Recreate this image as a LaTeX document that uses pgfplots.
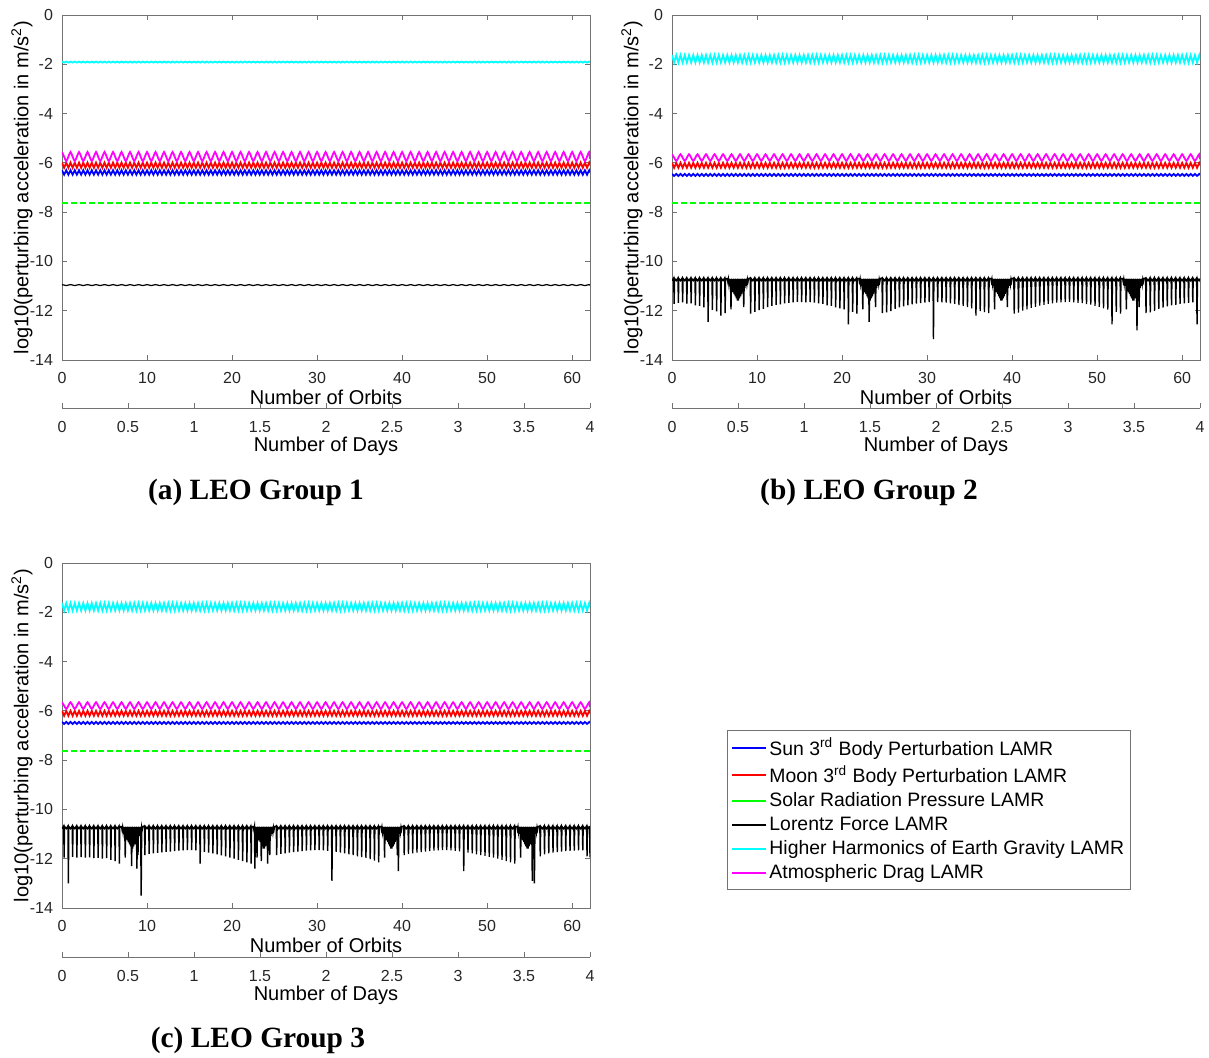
\documentclass[border=0pt]{standalone}
\usepackage{pgfplots}
\pgfplotsset{compat=1.18}
\usepackage{pgfplotstable}
\usepackage{fontspec}
\setmainfont{Liberation Sans}
\newfontfamily\capfont{Liberation Serif}
\definecolor{axgray}{gray}{0.45}
\definecolor{mblue}{rgb}{0,0,1}
\definecolor{mred}{rgb}{1,0,0}
\definecolor{mgreen}{rgb}{0,1,0}
\definecolor{mcyan}{rgb}{0,1,1}
\definecolor{mmag}{rgb}{1,0,1}
\definecolor{mblack}{rgb}{0,0,0}

% bands: panel a (ab ar am ac ak), panels b and c (bb br bm bc)
\pgfplotstableread{
x ab ar am ac ak bb br bm bc
0 -6.3 -5.99 -5.56 -1.89 -10.94 -6.45 -6 -5.65 -1.63
0.25 -6.48 -6.2 -5.75 -1.93 -10.96 -6.53 -6.2 -5.79 -1.93
0.5 -6.3 -5.99 -5.93 -1.89 -10.98 -6.45 -6 -5.92 -1.63
0.75 -6.48 -6.2 -5.75 -1.93 -10.96 -6.53 -6.2 -5.79 -1.93
1 -6.3 -5.99 -5.56 -1.89 -10.94 -6.45 -6 -5.65 -1.63
1.25 -6.48 -6.2 -5.75 -1.93 -10.96 -6.53 -6.2 -5.79 -1.93
1.5 -6.3 -5.99 -5.93 -1.89 -10.98 -6.45 -6 -5.92 -1.63
1.75 -6.48 -6.2 -5.75 -1.93 -10.96 -6.53 -6.2 -5.79 -1.93
2 -6.3 -5.99 -5.56 -1.89 -10.94 -6.45 -6 -5.65 -1.63
2.25 -6.48 -6.2 -5.75 -1.93 -10.96 -6.53 -6.2 -5.79 -1.93
2.5 -6.3 -5.99 -5.93 -1.89 -10.98 -6.45 -6 -5.92 -1.63
2.75 -6.48 -6.2 -5.75 -1.93 -10.96 -6.53 -6.2 -5.79 -1.93
3 -6.3 -5.99 -5.56 -1.89 -10.94 -6.45 -6 -5.65 -1.63
3.25 -6.48 -6.2 -5.75 -1.93 -10.96 -6.53 -6.2 -5.79 -1.93
3.5 -6.3 -5.99 -5.93 -1.89 -10.98 -6.45 -6 -5.92 -1.63
3.75 -6.48 -6.2 -5.75 -1.93 -10.96 -6.53 -6.2 -5.79 -1.93
4 -6.3 -5.99 -5.56 -1.89 -10.94 -6.45 -6 -5.65 -1.63
4.25 -6.48 -6.2 -5.75 -1.93 -10.96 -6.53 -6.2 -5.79 -1.93
4.5 -6.3 -5.99 -5.93 -1.89 -10.98 -6.45 -6 -5.92 -1.63
4.75 -6.48 -6.2 -5.75 -1.93 -10.96 -6.53 -6.2 -5.79 -1.93
5 -6.3 -5.99 -5.56 -1.89 -10.94 -6.45 -6 -5.65 -1.63
5.25 -6.48 -6.2 -5.75 -1.93 -10.96 -6.53 -6.2 -5.79 -1.93
5.5 -6.3 -5.99 -5.93 -1.89 -10.98 -6.45 -6 -5.92 -1.63
5.75 -6.48 -6.2 -5.75 -1.93 -10.96 -6.53 -6.2 -5.79 -1.93
6 -6.3 -5.99 -5.56 -1.89 -10.94 -6.45 -6 -5.65 -1.63
6.25 -6.48 -6.2 -5.75 -1.93 -10.96 -6.53 -6.2 -5.79 -1.93
6.5 -6.3 -5.99 -5.93 -1.89 -10.98 -6.45 -6 -5.92 -1.63
6.75 -6.48 -6.2 -5.75 -1.93 -10.96 -6.53 -6.2 -5.79 -1.93
7 -6.3 -5.99 -5.56 -1.89 -10.94 -6.45 -6 -5.65 -1.63
7.25 -6.48 -6.2 -5.75 -1.93 -10.96 -6.53 -6.2 -5.79 -1.93
7.5 -6.3 -5.99 -5.93 -1.89 -10.98 -6.45 -6 -5.92 -1.63
7.75 -6.48 -6.2 -5.75 -1.93 -10.96 -6.53 -6.2 -5.79 -1.93
8 -6.3 -5.99 -5.56 -1.89 -10.94 -6.45 -6 -5.65 -1.63
8.25 -6.48 -6.2 -5.75 -1.93 -10.96 -6.53 -6.2 -5.79 -1.93
8.5 -6.3 -5.99 -5.93 -1.89 -10.98 -6.45 -6 -5.92 -1.63
8.75 -6.48 -6.2 -5.75 -1.93 -10.96 -6.53 -6.2 -5.79 -1.93
9 -6.3 -5.99 -5.56 -1.89 -10.94 -6.45 -6 -5.65 -1.63
9.25 -6.48 -6.2 -5.75 -1.93 -10.96 -6.53 -6.2 -5.79 -1.93
9.5 -6.3 -5.99 -5.93 -1.89 -10.98 -6.45 -6 -5.92 -1.63
9.75 -6.48 -6.2 -5.75 -1.93 -10.96 -6.53 -6.2 -5.79 -1.93
10 -6.3 -5.99 -5.56 -1.89 -10.94 -6.45 -6 -5.65 -1.63
10.25 -6.48 -6.2 -5.75 -1.93 -10.96 -6.53 -6.2 -5.79 -1.93
10.5 -6.3 -5.99 -5.93 -1.89 -10.98 -6.45 -6 -5.92 -1.63
10.75 -6.48 -6.2 -5.75 -1.93 -10.96 -6.53 -6.2 -5.79 -1.93
11 -6.3 -5.99 -5.56 -1.89 -10.94 -6.45 -6 -5.65 -1.63
11.25 -6.48 -6.2 -5.75 -1.93 -10.96 -6.53 -6.2 -5.79 -1.93
11.5 -6.3 -5.99 -5.93 -1.89 -10.98 -6.45 -6 -5.92 -1.63
11.75 -6.48 -6.2 -5.75 -1.93 -10.96 -6.53 -6.2 -5.79 -1.93
12 -6.3 -5.99 -5.56 -1.89 -10.94 -6.45 -6 -5.65 -1.63
12.25 -6.48 -6.2 -5.75 -1.93 -10.96 -6.53 -6.2 -5.79 -1.93
12.5 -6.3 -5.99 -5.93 -1.89 -10.98 -6.45 -6 -5.92 -1.63
12.75 -6.48 -6.2 -5.75 -1.93 -10.96 -6.53 -6.2 -5.79 -1.93
13 -6.3 -5.99 -5.56 -1.89 -10.94 -6.45 -6 -5.65 -1.63
13.25 -6.48 -6.2 -5.75 -1.93 -10.96 -6.53 -6.2 -5.79 -1.93
13.5 -6.3 -5.99 -5.93 -1.89 -10.98 -6.45 -6 -5.92 -1.63
13.75 -6.48 -6.2 -5.75 -1.93 -10.96 -6.53 -6.2 -5.79 -1.93
14 -6.3 -5.99 -5.56 -1.89 -10.94 -6.45 -6 -5.65 -1.63
14.25 -6.48 -6.2 -5.75 -1.93 -10.96 -6.53 -6.2 -5.79 -1.93
14.5 -6.3 -5.99 -5.93 -1.89 -10.98 -6.45 -6 -5.92 -1.63
14.75 -6.48 -6.2 -5.75 -1.93 -10.96 -6.53 -6.2 -5.79 -1.93
15 -6.3 -5.99 -5.56 -1.89 -10.94 -6.45 -6 -5.65 -1.63
15.25 -6.48 -6.2 -5.75 -1.93 -10.96 -6.53 -6.2 -5.79 -1.93
15.5 -6.3 -5.99 -5.93 -1.89 -10.98 -6.45 -6 -5.92 -1.63
15.75 -6.48 -6.2 -5.75 -1.93 -10.96 -6.53 -6.2 -5.79 -1.93
16 -6.3 -5.99 -5.56 -1.89 -10.94 -6.45 -6 -5.65 -1.63
16.25 -6.48 -6.2 -5.75 -1.93 -10.96 -6.53 -6.2 -5.79 -1.93
16.5 -6.3 -5.99 -5.93 -1.89 -10.98 -6.45 -6 -5.92 -1.63
16.75 -6.48 -6.2 -5.75 -1.93 -10.96 -6.53 -6.2 -5.79 -1.93
17 -6.3 -5.99 -5.56 -1.89 -10.94 -6.45 -6 -5.65 -1.63
17.25 -6.48 -6.2 -5.75 -1.93 -10.96 -6.53 -6.2 -5.79 -1.93
17.5 -6.3 -5.99 -5.93 -1.89 -10.98 -6.45 -6 -5.92 -1.63
17.75 -6.48 -6.2 -5.75 -1.93 -10.96 -6.53 -6.2 -5.79 -1.93
18 -6.3 -5.99 -5.56 -1.89 -10.94 -6.45 -6 -5.65 -1.63
18.25 -6.48 -6.2 -5.75 -1.93 -10.96 -6.53 -6.2 -5.79 -1.93
18.5 -6.3 -5.99 -5.93 -1.89 -10.98 -6.45 -6 -5.92 -1.63
18.75 -6.48 -6.2 -5.75 -1.93 -10.96 -6.53 -6.2 -5.79 -1.93
19 -6.3 -5.99 -5.56 -1.89 -10.94 -6.45 -6 -5.65 -1.63
19.25 -6.48 -6.2 -5.75 -1.93 -10.96 -6.53 -6.2 -5.79 -1.93
19.5 -6.3 -5.99 -5.93 -1.89 -10.98 -6.45 -6 -5.92 -1.63
19.75 -6.48 -6.2 -5.75 -1.93 -10.96 -6.53 -6.2 -5.79 -1.93
20 -6.3 -5.99 -5.56 -1.89 -10.94 -6.45 -6 -5.65 -1.63
20.25 -6.48 -6.2 -5.75 -1.93 -10.96 -6.53 -6.2 -5.79 -1.93
20.5 -6.3 -5.99 -5.93 -1.89 -10.98 -6.45 -6 -5.92 -1.63
20.75 -6.48 -6.2 -5.75 -1.93 -10.96 -6.53 -6.2 -5.79 -1.93
21 -6.3 -5.99 -5.56 -1.89 -10.94 -6.45 -6 -5.65 -1.63
21.25 -6.48 -6.2 -5.75 -1.93 -10.96 -6.53 -6.2 -5.79 -1.93
21.5 -6.3 -5.99 -5.93 -1.89 -10.98 -6.45 -6 -5.92 -1.63
21.75 -6.48 -6.2 -5.75 -1.93 -10.96 -6.53 -6.2 -5.79 -1.93
22 -6.3 -5.99 -5.56 -1.89 -10.94 -6.45 -6 -5.65 -1.63
22.25 -6.48 -6.2 -5.75 -1.93 -10.96 -6.53 -6.2 -5.79 -1.93
22.5 -6.3 -5.99 -5.93 -1.89 -10.98 -6.45 -6 -5.92 -1.63
22.75 -6.48 -6.2 -5.75 -1.93 -10.96 -6.53 -6.2 -5.79 -1.93
23 -6.3 -5.99 -5.56 -1.89 -10.94 -6.45 -6 -5.65 -1.63
23.25 -6.48 -6.2 -5.75 -1.93 -10.96 -6.53 -6.2 -5.79 -1.93
23.5 -6.3 -5.99 -5.93 -1.89 -10.98 -6.45 -6 -5.92 -1.63
23.75 -6.48 -6.2 -5.75 -1.93 -10.96 -6.53 -6.2 -5.79 -1.93
24 -6.3 -5.99 -5.56 -1.89 -10.94 -6.45 -6 -5.65 -1.63
24.25 -6.48 -6.2 -5.75 -1.93 -10.96 -6.53 -6.2 -5.79 -1.93
24.5 -6.3 -5.99 -5.93 -1.89 -10.98 -6.45 -6 -5.92 -1.63
24.75 -6.48 -6.2 -5.75 -1.93 -10.96 -6.53 -6.2 -5.79 -1.93
25 -6.3 -5.99 -5.56 -1.89 -10.94 -6.45 -6 -5.65 -1.63
25.25 -6.48 -6.2 -5.75 -1.93 -10.96 -6.53 -6.2 -5.79 -1.93
25.5 -6.3 -5.99 -5.93 -1.89 -10.98 -6.45 -6 -5.92 -1.63
25.75 -6.48 -6.2 -5.75 -1.93 -10.96 -6.53 -6.2 -5.79 -1.93
26 -6.3 -5.99 -5.56 -1.89 -10.94 -6.45 -6 -5.65 -1.63
26.25 -6.48 -6.2 -5.75 -1.93 -10.96 -6.53 -6.2 -5.79 -1.93
26.5 -6.3 -5.99 -5.93 -1.89 -10.98 -6.45 -6 -5.92 -1.63
26.75 -6.48 -6.2 -5.75 -1.93 -10.96 -6.53 -6.2 -5.79 -1.93
27 -6.3 -5.99 -5.56 -1.89 -10.94 -6.45 -6 -5.65 -1.63
27.25 -6.48 -6.2 -5.75 -1.93 -10.96 -6.53 -6.2 -5.79 -1.93
27.5 -6.3 -5.99 -5.93 -1.89 -10.98 -6.45 -6 -5.92 -1.63
27.75 -6.48 -6.2 -5.75 -1.93 -10.96 -6.53 -6.2 -5.79 -1.93
28 -6.3 -5.99 -5.56 -1.89 -10.94 -6.45 -6 -5.65 -1.63
28.25 -6.48 -6.2 -5.75 -1.93 -10.96 -6.53 -6.2 -5.79 -1.93
28.5 -6.3 -5.99 -5.93 -1.89 -10.98 -6.45 -6 -5.92 -1.63
28.75 -6.48 -6.2 -5.75 -1.93 -10.96 -6.53 -6.2 -5.79 -1.93
29 -6.3 -5.99 -5.56 -1.89 -10.94 -6.45 -6 -5.65 -1.63
29.25 -6.48 -6.2 -5.75 -1.93 -10.96 -6.53 -6.2 -5.79 -1.93
29.5 -6.3 -5.99 -5.93 -1.89 -10.98 -6.45 -6 -5.92 -1.63
29.75 -6.48 -6.2 -5.75 -1.93 -10.96 -6.53 -6.2 -5.79 -1.93
30 -6.3 -5.99 -5.56 -1.89 -10.94 -6.45 -6 -5.65 -1.63
30.25 -6.48 -6.2 -5.75 -1.93 -10.96 -6.53 -6.2 -5.79 -1.93
30.5 -6.3 -5.99 -5.93 -1.89 -10.98 -6.45 -6 -5.92 -1.63
30.75 -6.48 -6.2 -5.75 -1.93 -10.96 -6.53 -6.2 -5.79 -1.93
31 -6.3 -5.99 -5.56 -1.89 -10.94 -6.45 -6 -5.65 -1.63
31.25 -6.48 -6.2 -5.75 -1.93 -10.96 -6.53 -6.2 -5.79 -1.93
31.5 -6.3 -5.99 -5.93 -1.89 -10.98 -6.45 -6 -5.92 -1.63
31.75 -6.48 -6.2 -5.75 -1.93 -10.96 -6.53 -6.2 -5.79 -1.93
32 -6.3 -5.99 -5.56 -1.89 -10.94 -6.45 -6 -5.65 -1.63
32.25 -6.48 -6.2 -5.75 -1.93 -10.96 -6.53 -6.2 -5.79 -1.93
32.5 -6.3 -5.99 -5.93 -1.89 -10.98 -6.45 -6 -5.92 -1.63
32.75 -6.48 -6.2 -5.75 -1.93 -10.96 -6.53 -6.2 -5.79 -1.93
33 -6.3 -5.99 -5.56 -1.89 -10.94 -6.45 -6 -5.65 -1.63
33.25 -6.48 -6.2 -5.75 -1.93 -10.96 -6.53 -6.2 -5.79 -1.93
33.5 -6.3 -5.99 -5.93 -1.89 -10.98 -6.45 -6 -5.92 -1.63
33.75 -6.48 -6.2 -5.75 -1.93 -10.96 -6.53 -6.2 -5.79 -1.93
34 -6.3 -5.99 -5.56 -1.89 -10.94 -6.45 -6 -5.65 -1.63
34.25 -6.48 -6.2 -5.75 -1.93 -10.96 -6.53 -6.2 -5.79 -1.93
34.5 -6.3 -5.99 -5.93 -1.89 -10.98 -6.45 -6 -5.92 -1.63
34.75 -6.48 -6.2 -5.75 -1.93 -10.96 -6.53 -6.2 -5.79 -1.93
35 -6.3 -5.99 -5.56 -1.89 -10.94 -6.45 -6 -5.65 -1.63
35.25 -6.48 -6.2 -5.75 -1.93 -10.96 -6.53 -6.2 -5.79 -1.93
35.5 -6.3 -5.99 -5.93 -1.89 -10.98 -6.45 -6 -5.92 -1.63
35.75 -6.48 -6.2 -5.75 -1.93 -10.96 -6.53 -6.2 -5.79 -1.93
36 -6.3 -5.99 -5.56 -1.89 -10.94 -6.45 -6 -5.65 -1.63
36.25 -6.48 -6.2 -5.75 -1.93 -10.96 -6.53 -6.2 -5.79 -1.93
36.5 -6.3 -5.99 -5.93 -1.89 -10.98 -6.45 -6 -5.92 -1.63
36.75 -6.48 -6.2 -5.75 -1.93 -10.96 -6.53 -6.2 -5.79 -1.93
37 -6.3 -5.99 -5.56 -1.89 -10.94 -6.45 -6 -5.65 -1.63
37.25 -6.48 -6.2 -5.75 -1.93 -10.96 -6.53 -6.2 -5.79 -1.93
37.5 -6.3 -5.99 -5.93 -1.89 -10.98 -6.45 -6 -5.92 -1.63
37.75 -6.48 -6.2 -5.75 -1.93 -10.96 -6.53 -6.2 -5.79 -1.93
38 -6.3 -5.99 -5.56 -1.89 -10.94 -6.45 -6 -5.65 -1.63
38.25 -6.48 -6.2 -5.75 -1.93 -10.96 -6.53 -6.2 -5.79 -1.93
38.5 -6.3 -5.99 -5.93 -1.89 -10.98 -6.45 -6 -5.92 -1.63
38.75 -6.48 -6.2 -5.75 -1.93 -10.96 -6.53 -6.2 -5.79 -1.93
39 -6.3 -5.99 -5.56 -1.89 -10.94 -6.45 -6 -5.65 -1.63
39.25 -6.48 -6.2 -5.75 -1.93 -10.96 -6.53 -6.2 -5.79 -1.93
39.5 -6.3 -5.99 -5.93 -1.89 -10.98 -6.45 -6 -5.92 -1.63
39.75 -6.48 -6.2 -5.75 -1.93 -10.96 -6.53 -6.2 -5.79 -1.93
40 -6.3 -5.99 -5.56 -1.89 -10.94 -6.45 -6 -5.65 -1.63
40.25 -6.48 -6.2 -5.75 -1.93 -10.96 -6.53 -6.2 -5.79 -1.93
40.5 -6.3 -5.99 -5.93 -1.89 -10.98 -6.45 -6 -5.92 -1.63
40.75 -6.48 -6.2 -5.75 -1.93 -10.96 -6.53 -6.2 -5.79 -1.93
41 -6.3 -5.99 -5.56 -1.89 -10.94 -6.45 -6 -5.65 -1.63
41.25 -6.48 -6.2 -5.75 -1.93 -10.96 -6.53 -6.2 -5.79 -1.93
41.5 -6.3 -5.99 -5.93 -1.89 -10.98 -6.45 -6 -5.92 -1.63
41.75 -6.48 -6.2 -5.75 -1.93 -10.96 -6.53 -6.2 -5.79 -1.93
42 -6.3 -5.99 -5.56 -1.89 -10.94 -6.45 -6 -5.65 -1.63
42.25 -6.48 -6.2 -5.75 -1.93 -10.96 -6.53 -6.2 -5.79 -1.93
42.5 -6.3 -5.99 -5.93 -1.89 -10.98 -6.45 -6 -5.92 -1.63
42.75 -6.48 -6.2 -5.75 -1.93 -10.96 -6.53 -6.2 -5.79 -1.93
43 -6.3 -5.99 -5.56 -1.89 -10.94 -6.45 -6 -5.65 -1.63
43.25 -6.48 -6.2 -5.75 -1.93 -10.96 -6.53 -6.2 -5.79 -1.93
43.5 -6.3 -5.99 -5.93 -1.89 -10.98 -6.45 -6 -5.92 -1.63
43.75 -6.48 -6.2 -5.75 -1.93 -10.96 -6.53 -6.2 -5.79 -1.93
44 -6.3 -5.99 -5.56 -1.89 -10.94 -6.45 -6 -5.65 -1.63
44.25 -6.48 -6.2 -5.75 -1.93 -10.96 -6.53 -6.2 -5.79 -1.93
44.5 -6.3 -5.99 -5.93 -1.89 -10.98 -6.45 -6 -5.92 -1.63
44.75 -6.48 -6.2 -5.75 -1.93 -10.96 -6.53 -6.2 -5.79 -1.93
45 -6.3 -5.99 -5.56 -1.89 -10.94 -6.45 -6 -5.65 -1.63
45.25 -6.48 -6.2 -5.75 -1.93 -10.96 -6.53 -6.2 -5.79 -1.93
45.5 -6.3 -5.99 -5.93 -1.89 -10.98 -6.45 -6 -5.92 -1.63
45.75 -6.48 -6.2 -5.75 -1.93 -10.96 -6.53 -6.2 -5.79 -1.93
46 -6.3 -5.99 -5.56 -1.89 -10.94 -6.45 -6 -5.65 -1.63
46.25 -6.48 -6.2 -5.75 -1.93 -10.96 -6.53 -6.2 -5.79 -1.93
46.5 -6.3 -5.99 -5.93 -1.89 -10.98 -6.45 -6 -5.92 -1.63
46.75 -6.48 -6.2 -5.75 -1.93 -10.96 -6.53 -6.2 -5.79 -1.93
47 -6.3 -5.99 -5.56 -1.89 -10.94 -6.45 -6 -5.65 -1.63
47.25 -6.48 -6.2 -5.75 -1.93 -10.96 -6.53 -6.2 -5.79 -1.93
47.5 -6.3 -5.99 -5.93 -1.89 -10.98 -6.45 -6 -5.92 -1.63
47.75 -6.48 -6.2 -5.75 -1.93 -10.96 -6.53 -6.2 -5.79 -1.93
48 -6.3 -5.99 -5.56 -1.89 -10.94 -6.45 -6 -5.65 -1.63
48.25 -6.48 -6.2 -5.75 -1.93 -10.96 -6.53 -6.2 -5.79 -1.93
48.5 -6.3 -5.99 -5.93 -1.89 -10.98 -6.45 -6 -5.92 -1.63
48.75 -6.48 -6.2 -5.75 -1.93 -10.96 -6.53 -6.2 -5.79 -1.93
49 -6.3 -5.99 -5.56 -1.89 -10.94 -6.45 -6 -5.65 -1.63
49.25 -6.48 -6.2 -5.75 -1.93 -10.96 -6.53 -6.2 -5.79 -1.93
49.5 -6.3 -5.99 -5.93 -1.89 -10.98 -6.45 -6 -5.92 -1.63
49.75 -6.48 -6.2 -5.75 -1.93 -10.96 -6.53 -6.2 -5.79 -1.93
50 -6.3 -5.99 -5.56 -1.89 -10.94 -6.45 -6 -5.65 -1.63
50.25 -6.48 -6.2 -5.75 -1.93 -10.96 -6.53 -6.2 -5.79 -1.93
50.5 -6.3 -5.99 -5.93 -1.89 -10.98 -6.45 -6 -5.92 -1.63
50.75 -6.48 -6.2 -5.75 -1.93 -10.96 -6.53 -6.2 -5.79 -1.93
51 -6.3 -5.99 -5.56 -1.89 -10.94 -6.45 -6 -5.65 -1.63
51.25 -6.48 -6.2 -5.75 -1.93 -10.96 -6.53 -6.2 -5.79 -1.93
51.5 -6.3 -5.99 -5.93 -1.89 -10.98 -6.45 -6 -5.92 -1.63
51.75 -6.48 -6.2 -5.75 -1.93 -10.96 -6.53 -6.2 -5.79 -1.93
52 -6.3 -5.99 -5.56 -1.89 -10.94 -6.45 -6 -5.65 -1.63
52.25 -6.48 -6.2 -5.75 -1.93 -10.96 -6.53 -6.2 -5.79 -1.93
52.5 -6.3 -5.99 -5.93 -1.89 -10.98 -6.45 -6 -5.92 -1.63
52.75 -6.48 -6.2 -5.75 -1.93 -10.96 -6.53 -6.2 -5.79 -1.93
53 -6.3 -5.99 -5.56 -1.89 -10.94 -6.45 -6 -5.65 -1.63
53.25 -6.48 -6.2 -5.75 -1.93 -10.96 -6.53 -6.2 -5.79 -1.93
53.5 -6.3 -5.99 -5.93 -1.89 -10.98 -6.45 -6 -5.92 -1.63
53.75 -6.48 -6.2 -5.75 -1.93 -10.96 -6.53 -6.2 -5.79 -1.93
54 -6.3 -5.99 -5.56 -1.89 -10.94 -6.45 -6 -5.65 -1.63
54.25 -6.48 -6.2 -5.75 -1.93 -10.96 -6.53 -6.2 -5.79 -1.93
54.5 -6.3 -5.99 -5.93 -1.89 -10.98 -6.45 -6 -5.92 -1.63
54.75 -6.48 -6.2 -5.75 -1.93 -10.96 -6.53 -6.2 -5.79 -1.93
55 -6.3 -5.99 -5.56 -1.89 -10.94 -6.45 -6 -5.65 -1.63
55.25 -6.48 -6.2 -5.75 -1.93 -10.96 -6.53 -6.2 -5.79 -1.93
55.5 -6.3 -5.99 -5.93 -1.89 -10.98 -6.45 -6 -5.92 -1.63
55.75 -6.48 -6.2 -5.75 -1.93 -10.96 -6.53 -6.2 -5.79 -1.93
56 -6.3 -5.99 -5.56 -1.89 -10.94 -6.45 -6 -5.65 -1.63
56.25 -6.48 -6.2 -5.75 -1.93 -10.96 -6.53 -6.2 -5.79 -1.93
56.5 -6.3 -5.99 -5.93 -1.89 -10.98 -6.45 -6 -5.92 -1.63
56.75 -6.48 -6.2 -5.75 -1.93 -10.96 -6.53 -6.2 -5.79 -1.93
57 -6.3 -5.99 -5.56 -1.89 -10.94 -6.45 -6 -5.65 -1.63
57.25 -6.48 -6.2 -5.75 -1.93 -10.96 -6.53 -6.2 -5.79 -1.93
57.5 -6.3 -5.99 -5.93 -1.89 -10.98 -6.45 -6 -5.92 -1.63
57.75 -6.48 -6.2 -5.75 -1.93 -10.96 -6.53 -6.2 -5.79 -1.93
58 -6.3 -5.99 -5.56 -1.89 -10.94 -6.45 -6 -5.65 -1.63
58.25 -6.48 -6.2 -5.75 -1.93 -10.96 -6.53 -6.2 -5.79 -1.93
58.5 -6.3 -5.99 -5.93 -1.89 -10.98 -6.45 -6 -5.92 -1.63
58.75 -6.48 -6.2 -5.75 -1.93 -10.96 -6.53 -6.2 -5.79 -1.93
59 -6.3 -5.99 -5.56 -1.89 -10.94 -6.45 -6 -5.65 -1.63
59.25 -6.48 -6.2 -5.75 -1.93 -10.96 -6.53 -6.2 -5.79 -1.93
59.5 -6.3 -5.99 -5.93 -1.89 -10.98 -6.45 -6 -5.92 -1.63
59.75 -6.48 -6.2 -5.75 -1.93 -10.96 -6.53 -6.2 -5.79 -1.93
60 -6.3 -5.99 -5.56 -1.89 -10.94 -6.45 -6 -5.65 -1.63
60.25 -6.48 -6.2 -5.75 -1.93 -10.96 -6.53 -6.2 -5.79 -1.93
60.5 -6.3 -5.99 -5.93 -1.89 -10.98 -6.45 -6 -5.92 -1.63
60.75 -6.48 -6.2 -5.75 -1.93 -10.96 -6.53 -6.2 -5.79 -1.93
61 -6.3 -5.99 -5.56 -1.89 -10.94 -6.45 -6 -5.65 -1.63
61.25 -6.48 -6.2 -5.75 -1.93 -10.96 -6.53 -6.2 -5.79 -1.93
61.5 -6.3 -5.99 -5.93 -1.89 -10.98 -6.45 -6 -5.92 -1.63
61.75 -6.48 -6.2 -5.75 -1.93 -10.96 -6.53 -6.2 -5.79 -1.93
62 -6.3 -5.99 -5.56 -1.89 -10.94 -6.45 -6 -5.65 -1.63
62.1 -6.39 -6.1 -5.85 -1.91 -10.97 -6.49 -6.1 -5.86 -1.78
}\tabBands

% Lorentz force, panel b
\pgfplotstableread{
x y
0 -10.78
0.2 -10.67
0.25 -11.72
0.3 -10.69
0.5 -10.78
0.7 -10.67
0.75 -11.68
0.8 -10.69
1 -10.78
1.2 -10.67
1.25 -11.66
1.3 -10.69
1.5 -10.78
1.7 -10.67
1.75 -11.71
1.8 -10.69
2 -10.78
2.2 -10.67
2.25 -11.7
2.3 -10.69
2.5 -10.78
2.7 -10.67
2.75 -11.78
2.8 -10.69
3 -10.78
3.2 -10.67
3.25 -11.8
3.3 -10.69
3.5 -10.78
3.7 -10.67
3.75 -11.86
3.8 -10.69
4 -10.78
4.2 -10.67
4.25 -12.45
4.3 -10.69
4.5 -10.78
4.7 -10.67
4.75 -11.97
4.8 -10.69
5 -10.78
5.2 -10.67
5.25 -12.03
5.3 -10.69
5.5 -10.78
5.7 -10.67
5.75 -12.2
5.8 -10.69
6 -10.78
6.2 -10.67
6.25 -12.1
6.3 -10.69
6.5 -10.7
6.5625 -10.82
6.625 -10.71
6.6875 -10.91
6.75 -10.7
6.8125 -10.99
6.875 -10.72
6.9375 -11.95
7 -10.7
7.0625 -11.16
7.125 -10.72
7.1875 -11.25
7.25 -10.7
7.3125 -11.33
7.375 -10.72
7.4375 -11.42
7.5 -10.7
7.5625 -11.5
7.625 -10.72
7.6875 -11.59
7.75 -10.7
7.8125 -11.59
7.875 -10.72
7.9375 -11.5
8 -10.7
8.0625 -11.42
8.125 -10.72
8.1875 -11.33
8.25 -10.7
8.3125 -11.25
8.375 -10.72
8.4375 -11.85
8.5 -10.7
8.5625 -11.08
8.625 -10.72
8.6875 -10.99
8.75 -10.7
8.8125 -10.91
8.875 -10.72
8.9375 -10.82
9 -10.7
9.2 -10.67
9.25 -12.12
9.3 -10.69
9.5 -10.78
9.7 -10.67
9.75 -12.05
9.8 -10.69
10 -10.78
10.2 -10.67
10.25 -11.98
10.3 -10.69
10.5 -10.78
10.7 -10.67
10.75 -11.92
10.8 -10.69
11 -10.78
11.2 -10.67
11.25 -11.85
11.3 -10.69
11.5 -10.78
11.7 -10.67
11.75 -11.8
11.8 -10.69
12 -10.78
12.2 -10.67
12.25 -11.76
12.3 -10.69
12.5 -10.78
12.7 -10.67
12.75 -11.74
12.8 -10.69
13 -10.78
13.2 -10.67
13.25 -11.7
13.3 -10.69
13.5 -10.78
13.7 -10.67
13.75 -11.68
13.8 -10.69
14 -10.78
14.2 -10.67
14.25 -11.66
14.3 -10.69
14.5 -10.78
14.7 -10.67
14.75 -11.64
14.8 -10.69
15 -10.78
15.2 -10.67
15.25 -11.65
15.3 -10.69
15.5 -10.78
15.7 -10.67
15.75 -11.66
15.8 -10.69
16 -10.78
16.2 -10.67
16.25 -11.65
16.3 -10.69
16.5 -10.78
16.7 -10.67
16.75 -11.67
16.8 -10.69
17 -10.78
17.2 -10.67
17.25 -11.7
17.3 -10.69
17.5 -10.78
17.7 -10.67
17.75 -11.72
17.8 -10.69
18 -10.78
18.2 -10.67
18.25 -11.78
18.3 -10.69
18.5 -10.78
18.7 -10.67
18.75 -11.8
18.8 -10.69
19 -10.78
19.2 -10.67
19.25 -11.86
19.3 -10.69
19.5 -10.78
19.7 -10.67
19.75 -11.9
19.8 -10.69
20 -10.78
20.2 -10.67
20.25 -11.95
20.3 -10.69
20.5 -10.78
20.7 -10.67
20.75 -12.55
20.8 -10.69
21 -10.78
21.2 -10.67
21.25 -12.05
21.3 -10.69
21.5 -10.78
21.7 -10.67
21.75 -12.12
21.8 -10.69
22 -10.7
22.0625 -10.82
22.125 -10.71
22.1875 -10.91
22.25 -10.7
22.3125 -10.99
22.375 -10.72
22.4375 -11.95
22.5 -10.7
22.5625 -11.16
22.625 -10.72
22.6875 -11.25
22.75 -10.7
22.8125 -11.33
22.875 -10.72
22.9375 -11.42
23 -10.7
23.0625 -11.5
23.125 -10.72
23.1875 -12.45
23.25 -10.7
23.3125 -11.59
23.375 -10.72
23.4375 -11.5
23.5 -10.7
23.5625 -11.42
23.625 -10.72
23.6875 -11.33
23.75 -10.7
23.8125 -11.25
23.875 -10.72
23.9375 -11.85
24 -10.7
24.0625 -11.08
24.125 -10.72
24.1875 -10.99
24.25 -10.7
24.3125 -10.91
24.375 -10.72
24.4375 -10.82
24.5 -10.7
24.7 -10.67
24.75 -12.1
24.8 -10.69
25 -10.78
25.2 -10.67
25.25 -12.07
25.3 -10.69
25.5 -10.78
25.7 -10.67
25.75 -12.02
25.8 -10.69
26 -10.78
26.2 -10.67
26.25 -11.92
26.3 -10.69
26.5 -10.78
26.7 -10.67
26.75 -11.86
26.8 -10.69
27 -10.78
27.2 -10.67
27.25 -11.82
27.3 -10.69
27.5 -10.78
27.7 -10.67
27.75 -11.78
27.8 -10.69
28 -10.78
28.2 -10.67
28.25 -11.74
28.3 -10.69
28.5 -10.78
28.7 -10.67
28.75 -11.71
28.8 -10.69
29 -10.78
29.2 -10.67
29.25 -11.69
29.3 -10.69
29.5 -10.78
29.7 -10.67
29.75 -11.67
29.8 -10.69
30 -10.78
30.2 -10.67
30.25 -11.65
30.3 -10.69
30.5 -10.78
30.7 -10.67
30.75 -13.15
30.8 -10.69
31 -10.78
31.2 -10.67
31.25 -11.65
31.3 -10.69
31.5 -10.78
31.7 -10.67
31.75 -11.66
31.8 -10.69
32 -10.78
32.2 -10.67
32.25 -11.67
32.3 -10.69
32.5 -10.78
32.7 -10.67
32.75 -11.7
32.8 -10.69
33 -10.78
33.2 -10.67
33.25 -11.72
33.3 -10.69
33.5 -10.78
33.7 -10.67
33.75 -11.77
33.8 -10.69
34 -10.78
34.2 -10.67
34.25 -11.8
34.3 -10.69
34.5 -10.78
34.7 -10.67
34.75 -11.85
34.8 -10.69
35 -10.78
35.2 -10.67
35.25 -11.9
35.3 -10.69
35.5 -10.78
35.7 -10.67
35.75 -12.2
35.8 -10.69
36 -10.78
36.2 -10.67
36.25 -12.02
36.3 -10.69
36.5 -10.78
36.7 -10.67
36.75 -12.06
36.8 -10.69
37 -10.78
37.2 -10.67
37.25 -12.1
37.3 -10.69
37.5 -10.7
37.5625 -10.82
37.625 -10.71
37.6875 -10.91
37.75 -10.7
37.8125 -10.99
37.875 -10.72
37.9375 -11.95
38 -10.7
38.0625 -11.16
38.125 -10.72
38.1875 -11.25
38.25 -10.7
38.3125 -11.33
38.375 -10.72
38.4375 -11.42
38.5 -10.7
38.5625 -11.5
38.625 -10.72
38.6875 -11.59
38.75 -10.7
38.8125 -11.59
38.875 -10.72
38.9375 -11.5
39 -10.7
39.0625 -11.42
39.125 -10.72
39.1875 -11.33
39.25 -10.7
39.3125 -11.25
39.375 -10.72
39.4375 -11.85
39.5 -10.7
39.5625 -11.08
39.625 -10.72
39.6875 -10.99
39.75 -10.7
39.8125 -10.91
39.875 -10.72
39.9375 -10.82
40 -10.7
40.2 -10.67
40.25 -12.12
40.3 -10.69
40.5 -10.78
40.7 -10.67
40.75 -12.08
40.8 -10.69
41 -10.78
41.2 -10.67
41.25 -12
41.3 -10.69
41.5 -10.78
41.7 -10.67
41.75 -11.95
41.8 -10.69
42 -10.78
42.2 -10.67
42.25 -11.88
42.3 -10.69
42.5 -10.78
42.7 -10.67
42.75 -11.84
42.8 -10.69
43 -10.78
43.2 -10.67
43.25 -11.79
43.3 -10.69
43.5 -10.78
43.7 -10.67
43.75 -11.76
43.8 -10.69
44 -10.78
44.2 -10.67
44.25 -11.72
44.3 -10.69
44.5 -10.78
44.7 -10.67
44.75 -11.7
44.8 -10.69
45 -10.78
45.2 -10.67
45.25 -11.67
45.3 -10.69
45.5 -10.78
45.7 -10.67
45.75 -11.66
45.8 -10.69
46 -10.78
46.2 -10.67
46.25 -11.65
46.3 -10.69
46.5 -10.78
46.7 -10.67
46.75 -11.64
46.8 -10.69
47 -10.78
47.2 -10.67
47.25 -11.66
47.3 -10.69
47.5 -10.78
47.7 -10.67
47.75 -11.68
47.8 -10.69
48 -10.78
48.2 -10.67
48.25 -11.69
48.3 -10.69
48.5 -10.78
48.7 -10.67
48.75 -11.73
48.8 -10.69
49 -10.78
49.2 -10.67
49.25 -11.75
49.3 -10.69
49.5 -10.78
49.7 -10.67
49.75 -11.8
49.8 -10.69
50 -10.78
50.2 -10.67
50.25 -11.84
50.3 -10.69
50.5 -10.78
50.7 -10.67
50.75 -11.9
50.8 -10.69
51 -10.78
51.2 -10.67
51.25 -11.96
51.3 -10.69
51.5 -10.78
51.7 -10.67
51.75 -12.55
51.8 -10.69
52 -10.78
52.2 -10.67
52.25 -12.05
52.3 -10.69
52.5 -10.78
52.7 -10.67
52.75 -12.12
52.8 -10.69
53 -10.7
53.0625 -10.82
53.125 -10.71
53.1875 -10.91
53.25 -10.7
53.3125 -10.99
53.375 -10.72
53.4375 -11.95
53.5 -10.7
53.5625 -11.16
53.625 -10.72
53.6875 -11.25
53.75 -10.7
53.8125 -11.33
53.875 -10.72
53.9375 -11.42
54 -10.7
54.0625 -11.5
54.125 -10.72
54.1875 -11.59
54.25 -10.7
54.3125 -11.59
54.375 -10.72
54.4375 -11.5
54.5 -10.7
54.5625 -11.42
54.625 -10.72
54.6875 -12.8
54.75 -10.7
54.8125 -11.25
54.875 -10.72
54.9375 -11.85
55 -10.7
55.0625 -11.08
55.125 -10.72
55.1875 -10.99
55.25 -10.7
55.3125 -10.91
55.375 -10.72
55.4375 -10.82
55.5 -10.7
55.7 -10.67
55.75 -12.1
55.8 -10.69
56 -10.78
56.2 -10.67
56.25 -12.07
56.3 -10.69
56.5 -10.78
56.7 -10.67
56.75 -12.01
56.8 -10.69
57 -10.78
57.2 -10.67
57.25 -11.93
57.3 -10.69
57.5 -10.78
57.7 -10.67
57.75 -11.87
57.8 -10.69
58 -10.78
58.2 -10.67
58.25 -11.82
58.3 -10.69
58.5 -10.78
58.7 -10.67
58.75 -11.78
58.8 -10.69
59 -10.78
59.2 -10.67
59.25 -11.76
59.3 -10.69
59.5 -10.78
59.7 -10.67
59.75 -11.72
59.8 -10.69
60 -10.78
60.2 -10.67
60.25 -11.7
60.3 -10.69
60.5 -10.78
60.7 -10.67
60.75 -11.68
60.8 -10.69
61 -10.78
61.2 -10.67
61.25 -11.66
61.3 -10.69
61.5 -10.78
61.7 -10.67
61.75 -12.55
61.8 -10.69
62 -10.78
62.1 -10.7
}\tabLb

% Lorentz force, panel c
\pgfplotstableread{
x y
0 -10.78
0.2 -10.67
0.25 -11.95
0.3 -10.69
0.5 -10.78
0.7 -10.67
0.75 -13
0.8 -10.69
1 -10.78
1.2 -10.67
1.25 -11.92
1.3 -10.69
1.5 -10.78
1.7 -10.67
1.75 -11.95
1.8 -10.69
2 -10.78
2.2 -10.67
2.25 -11.93
2.3 -10.69
2.5 -10.78
2.7 -10.67
2.75 -11.96
2.8 -10.69
3 -10.78
3.2 -10.67
3.25 -11.94
3.3 -10.69
3.5 -10.78
3.7 -10.67
3.75 -11.98
3.8 -10.69
4 -10.78
4.2 -10.67
4.25 -11.97
4.3 -10.69
4.5 -10.78
4.7 -10.67
4.75 -12
4.8 -10.69
5 -10.78
5.2 -10.67
5.25 -11.98
5.3 -10.69
5.5 -10.78
5.7 -10.67
5.75 -12.05
5.8 -10.69
6 -10.78
6.2 -10.67
6.25 -12.1
6.3 -10.69
6.5 -10.78
6.7 -10.67
6.75 -12.2
6.8 -10.69
7 -10.7
7.0625 -10.82
7.125 -10.71
7.1875 -10.91
7.25 -10.7
7.3125 -10.99
7.375 -10.72
7.4375 -11.95
7.5 -10.7
7.5625 -11.16
7.625 -10.72
7.6875 -11.25
7.75 -10.7
7.8125 -11.33
7.875 -10.72
7.9375 -11.42
8 -10.7
8.0625 -11.5
8.125 -10.72
8.1875 -12.3
8.25 -10.7
8.3125 -11.59
8.375 -10.72
8.4375 -11.5
8.5 -10.7
8.5625 -11.42
8.625 -10.72
8.6875 -11.33
8.75 -10.7
8.8125 -12.4
8.875 -10.72
8.9375 -11.85
9 -10.7
9.0625 -11.08
9.125 -10.72
9.1875 -10.99
9.25 -10.7
9.3125 -13.5
9.375 -10.72
9.4375 -10.82
9.5 -10.7
9.7 -10.67
9.75 -11.85
9.8 -10.69
10 -10.78
10.2 -10.67
10.25 -11.8
10.3 -10.69
10.5 -10.78
10.7 -10.67
10.75 -11.78
10.8 -10.69
11 -10.78
11.2 -10.67
11.25 -11.76
11.3 -10.69
11.5 -10.78
11.7 -10.67
11.75 -11.74
11.8 -10.69
12 -10.78
12.2 -10.67
12.25 -11.72
12.3 -10.69
12.5 -10.78
12.7 -10.67
12.75 -11.71
12.8 -10.69
13 -10.78
13.2 -10.67
13.25 -11.69
13.3 -10.69
13.5 -10.78
13.7 -10.67
13.75 -11.67
13.8 -10.69
14 -10.78
14.2 -10.67
14.25 -11.66
14.3 -10.69
14.5 -10.78
14.7 -10.67
14.75 -11.65
14.8 -10.69
15 -10.78
15.2 -10.67
15.25 -11.65
15.3 -10.69
15.5 -10.78
15.7 -10.67
15.75 -11.66
15.8 -10.69
16 -10.78
16.2 -10.67
16.25 -12.2
16.3 -10.69
16.5 -10.78
16.7 -10.67
16.75 -11.72
16.8 -10.69
17 -10.78
17.2 -10.67
17.25 -11.75
17.3 -10.69
17.5 -10.78
17.7 -10.67
17.75 -11.78
17.8 -10.69
18 -10.78
18.2 -10.67
18.25 -11.82
18.3 -10.69
18.5 -10.78
18.7 -10.67
18.75 -11.86
18.8 -10.69
19 -10.78
19.2 -10.67
19.25 -11.9
19.3 -10.69
19.5 -10.78
19.7 -10.67
19.75 -11.95
19.8 -10.69
20 -10.78
20.2 -10.67
20.25 -12
20.3 -10.69
20.5 -10.78
20.7 -10.67
20.75 -12.05
20.8 -10.69
21 -10.78
21.2 -10.67
21.25 -12.1
21.3 -10.69
21.5 -10.78
21.7 -10.67
21.75 -12.15
21.8 -10.69
22 -10.78
22.2 -10.67
22.25 -12.2
22.3 -10.69
22.5 -10.7
22.5625 -10.82
22.625 -10.71
22.6875 -12.4
22.75 -10.7
22.8125 -10.99
22.875 -10.72
22.9375 -11.95
23 -10.7
23.0625 -11.16
23.125 -10.72
23.1875 -11.25
23.25 -10.7
23.3125 -11.33
23.375 -10.72
23.4375 -12.1
23.5 -10.7
23.5625 -11.5
23.625 -10.72
23.6875 -11.59
23.75 -10.7
23.8125 -11.59
23.875 -10.72
23.9375 -11.5
24 -10.7
24.0625 -11.42
24.125 -10.72
24.1875 -12.2
24.25 -10.7
24.3125 -11.25
24.375 -10.72
24.4375 -11.85
24.5 -10.7
24.5625 -11.08
24.625 -10.72
24.6875 -10.99
24.75 -10.7
24.8125 -10.91
24.875 -10.72
24.9375 -10.82
25 -10.7
25.2 -10.67
25.25 -11.85
25.3 -10.69
25.5 -10.78
25.7 -10.67
25.75 -11.8
25.8 -10.69
26 -10.78
26.2 -10.67
26.25 -11.78
26.3 -10.69
26.5 -10.78
26.7 -10.67
26.75 -11.75
26.8 -10.69
27 -10.78
27.2 -10.67
27.25 -11.73
27.3 -10.69
27.5 -10.78
27.7 -10.67
27.75 -11.71
27.8 -10.69
28 -10.78
28.2 -10.67
28.25 -11.69
28.3 -10.69
28.5 -10.78
28.7 -10.67
28.75 -11.67
28.8 -10.69
29 -10.78
29.2 -10.67
29.25 -11.66
29.3 -10.69
29.5 -10.78
29.7 -10.67
29.75 -11.65
29.8 -10.69
30 -10.78
30.2 -10.67
30.25 -11.65
30.3 -10.69
30.5 -10.78
30.7 -10.67
30.75 -11.66
30.8 -10.69
31 -10.78
31.2 -10.67
31.25 -11.68
31.3 -10.69
31.5 -10.78
31.7 -10.67
31.75 -12.9
31.8 -10.69
32 -10.78
32.2 -10.67
32.25 -11.72
32.3 -10.69
32.5 -10.78
32.7 -10.67
32.75 -11.75
32.8 -10.69
33 -10.78
33.2 -10.67
33.25 -11.78
33.3 -10.69
33.5 -10.78
33.7 -10.67
33.75 -11.82
33.8 -10.69
34 -10.78
34.2 -10.67
34.25 -11.85
34.3 -10.69
34.5 -10.78
34.7 -10.67
34.75 -11.9
34.8 -10.69
35 -10.78
35.2 -10.67
35.25 -11.93
35.3 -10.69
35.5 -10.78
35.7 -10.67
35.75 -11.97
35.8 -10.69
36 -10.78
36.2 -10.67
36.25 -12.02
36.3 -10.69
36.5 -10.78
36.7 -10.67
36.75 -12.08
36.8 -10.69
37 -10.78
37.2 -10.67
37.25 -12.15
37.3 -10.69
37.5 -10.7
37.5625 -10.82
37.625 -10.71
37.6875 -10.91
37.75 -10.7
37.8125 -10.99
37.875 -10.72
37.9375 -11.95
38 -10.7
38.0625 -11.16
38.125 -10.72
38.1875 -11.25
38.25 -10.7
38.3125 -11.33
38.375 -10.72
38.4375 -11.42
38.5 -10.7
38.5625 -11.5
38.625 -10.72
38.6875 -11.59
38.75 -10.7
38.8125 -11.59
38.875 -10.72
38.9375 -11.5
39 -10.7
39.0625 -11.42
39.125 -10.72
39.1875 -11.33
39.25 -10.7
39.3125 -11.25
39.375 -10.72
39.4375 -11.85
39.5 -10.7
39.5625 -12.5
39.625 -10.72
39.6875 -10.99
39.75 -10.7
39.8125 -10.91
39.875 -10.72
39.9375 -10.82
40 -10.7
40.2 -10.67
40.25 -11.85
40.3 -10.69
40.5 -10.78
40.7 -10.67
40.75 -11.8
40.8 -10.69
41 -10.78
41.2 -10.67
41.25 -11.78
41.3 -10.69
41.5 -10.78
41.7 -10.67
41.75 -11.75
41.8 -10.69
42 -10.78
42.2 -10.67
42.25 -11.73
42.3 -10.69
42.5 -10.78
42.7 -10.67
42.75 -11.71
42.8 -10.69
43 -10.78
43.2 -10.67
43.25 -11.69
43.3 -10.69
43.5 -10.78
43.7 -10.67
43.75 -11.67
43.8 -10.69
44 -10.78
44.2 -10.67
44.25 -11.66
44.3 -10.69
44.5 -10.78
44.7 -10.67
44.75 -11.65
44.8 -10.69
45 -10.78
45.2 -10.67
45.25 -11.65
45.3 -10.69
45.5 -10.78
45.7 -10.67
45.75 -11.66
45.8 -10.69
46 -10.78
46.2 -10.67
46.25 -11.68
46.3 -10.69
46.5 -10.78
46.7 -10.67
46.75 -11.7
46.8 -10.69
47 -10.78
47.2 -10.67
47.25 -12.5
47.3 -10.69
47.5 -10.78
47.7 -10.67
47.75 -11.75
47.8 -10.69
48 -10.78
48.2 -10.67
48.25 -11.78
48.3 -10.69
48.5 -10.78
48.7 -10.67
48.75 -11.82
48.8 -10.69
49 -10.78
49.2 -10.67
49.25 -11.85
49.3 -10.69
49.5 -10.78
49.7 -10.67
49.75 -11.88
49.8 -10.69
50 -10.78
50.2 -10.67
50.25 -11.92
50.3 -10.69
50.5 -10.78
50.7 -10.67
50.75 -11.96
50.8 -10.69
51 -10.78
51.2 -10.67
51.25 -12
51.3 -10.69
51.5 -10.78
51.7 -10.67
51.75 -12.05
51.8 -10.69
52 -10.78
52.2 -10.67
52.25 -12.1
52.3 -10.69
52.5 -10.78
52.7 -10.67
52.75 -12.15
52.8 -10.69
53 -10.78
53.2 -10.67
53.25 -12.2
53.3 -10.69
53.5 -10.7
53.5625 -10.82
53.625 -10.71
53.6875 -10.91
53.75 -10.7
53.8125 -10.99
53.875 -10.72
53.9375 -11.95
54 -10.7
54.0625 -11.16
54.125 -10.72
54.1875 -11.25
54.25 -10.7
54.3125 -11.33
54.375 -10.72
54.4375 -11.42
54.5 -10.7
54.5625 -11.5
54.625 -10.72
54.6875 -11.59
54.75 -10.7
54.8125 -11.59
54.875 -10.72
54.9375 -11.5
55 -10.7
55.0625 -11.42
55.125 -10.72
55.1875 -11.33
55.25 -10.7
55.3125 -12.9
55.375 -10.72
55.4375 -11.85
55.5 -10.7
55.5625 -13
55.625 -10.72
55.6875 -10.99
55.75 -10.7
55.8125 -10.91
55.875 -10.72
55.9375 -10.82
56 -10.7
56.2 -10.67
56.25 -11.9
56.3 -10.69
56.5 -10.78
56.7 -10.67
56.75 -11.82
56.8 -10.69
57 -10.78
57.2 -10.67
57.25 -11.78
57.3 -10.69
57.5 -10.78
57.7 -10.67
57.75 -11.75
57.8 -10.69
58 -10.78
58.2 -10.67
58.25 -11.73
58.3 -10.69
58.5 -10.78
58.7 -10.67
58.75 -11.71
58.8 -10.69
59 -10.78
59.2 -10.67
59.25 -11.69
59.3 -10.69
59.5 -10.78
59.7 -10.67
59.75 -11.68
59.8 -10.69
60 -10.78
60.2 -10.67
60.25 -11.67
60.3 -10.69
60.5 -10.78
60.7 -10.67
60.75 -11.66
60.8 -10.69
61 -10.78
61.2 -10.67
61.25 -11.66
61.3 -10.69
61.5 -10.78
61.7 -10.67
61.75 -11.9
61.8 -10.69
62 -10.78
62.05 -10.67
62.1 -11.95
}\tabLc

\pgfplotsset{
  mainax/.style={
    scale only axis, width=264pt, height=172.5pt, anchor=south west,
    xmin=0, xmax=62.1, ymin=-14, ymax=0,
    xtick={0,10,20,30,40,50,60}, ytick={-14,-12,-10,-8,-6,-4,-2,0},
    tick align=inside, major tick length=2.6pt,
    axis line style={axgray}, tick style={axgray, line width=0.4pt},
    /pgf/number format/assume math mode=true,
    ticklabel style={font=\fontsize{8}{9}\selectfont, text=black!85},
    label style={font=\fontsize{8.8}{10}\selectfont, text=black!85},
    xlabel={Number of Orbits},
    ylabel={log10(perturbing acceleration in m/s\textsuperscript{2})},
    every axis x label/.style={at={(axis description cs:0.5,-0.107)}, anchor=center},
    every axis y label/.style={at={(axis description cs:-0.076,0.5)}, rotate=90, anchor=center},
    xticklabel shift=2.5pt, yticklabel shift=1pt,
  },
  dayax/.style={
    scale only axis, width=264pt, height=10pt, anchor=south west,
    xmin=0, xmax=4, ymin=0, ymax=1,
    axis x line*=bottom, axis y line=none,
    x axis line style={axgray, -},
    xtick={0,0.5,1,1.5,2,2.5,3,3.5,4},
    tick align=inside, major tick length=2.6pt, tick style={axgray, line width=0.4pt},
    /pgf/number format/assume math mode=true,
    ticklabel style={font=\fontsize{8}{9}\selectfont, text=black!85},
    label style={font=\fontsize{8.8}{10}\selectfont, text=black!85},
    xlabel={Number of Days},
    every axis x label/.style={at={(axis description cs:0.5,0)}, yshift=-19pt, anchor=center},
    xticklabel shift=3pt,
  },
  band/.style={line width=0.9pt},
  lor/.style={mblack, line width=0.7pt},
}

\begin{document}
\begin{tikzpicture}
\path[use as bounding box] (0,0) rectangle (604.5pt,528.5pt);

% ---------- (a)
\begin{axis}[mainax, at={(31pt,348.5pt)}]
\addplot[mblue, band] table[x=x,y=ab]{\tabBands};
\addplot[mred, band] table[x=x,y=ar]{\tabBands};
\addplot[mgreen, band, dash pattern=on 3pt off 1.5pt] coordinates {(0,-7.63) (62.1,-7.63)};
\addplot[mblack, line width=0.6pt] table[x=x,y=ak]{\tabBands};
\addplot[mcyan, band] table[x=x,y=ac]{\tabBands};
\addplot[mmag, band, smooth] table[x=x,y=am]{\tabBands};
\end{axis}
\begin{axis}[dayax, at={(31pt,324.5pt)}]
\end{axis}

% ---------- (b)
\begin{axis}[mainax, at={(336pt,348.5pt)}]
\addplot[mblue, band] table[x=x,y=bb]{\tabBands};
\addplot[mred, band] table[x=x,y=br]{\tabBands};
\addplot[mgreen, band, dash pattern=on 3pt off 1.5pt] coordinates {(0,-7.63) (62.1,-7.63)};
\addplot[lor] table[x=x,y=y]{\tabLb};
\addplot[mcyan, band] table[x=x,y=bc]{\tabBands};
\addplot[mmag, band, smooth] table[x=x,y=bm]{\tabBands};
\end{axis}
\begin{axis}[dayax, at={(336pt,324.5pt)}]
\end{axis}

% ---------- (c)
\begin{axis}[mainax, at={(31pt,74.5pt)},
  legend style={at={(1.2595,0.516)}, anchor=north west, draw=axgray, fill=white,
    font=\fontsize{9.7}{11}\selectfont, inner xsep=2pt, inner ysep=2pt,
    nodes={inner xsep=1pt, inner ysep=1.8pt, text depth=0.15em}, cells={anchor=west}},
  legend cell align=left,
  legend image code/.code={\draw[#1] (0pt,0pt) -- (17pt,0pt);}]
\addplot[mblue, band, forget plot] table[x=x,y=bb]{\tabBands};
\addplot[mred, band, forget plot] table[x=x,y=br]{\tabBands};
\addplot[mgreen, band, dash pattern=on 3pt off 1.5pt, forget plot] coordinates {(0,-7.63) (62.1,-7.63)};
\addplot[lor, forget plot] table[x=x,y=y]{\tabLc};
\addplot[mcyan, band, forget plot] table[x=x,y=bc]{\tabBands};
\addplot[mmag, band, smooth, forget plot] table[x=x,y=bm]{\tabBands};
\addlegendimage{draw=mblue, line width=1pt}
\addlegendentry{Sun 3\textsuperscript{rd} Body Perturbation LAMR}
\addlegendimage{draw=mred, line width=1pt}
\addlegendentry{Moon 3\textsuperscript{rd} Body Perturbation LAMR}
\addlegendimage{draw=mgreen, line width=1pt}
\addlegendentry{Solar Radiation Pressure LAMR}
\addlegendimage{draw=mblack, line width=1pt}
\addlegendentry{Lorentz Force LAMR}
\addlegendimage{draw=mcyan, line width=1pt}
\addlegendentry{Higher Harmonics of Earth Gravity LAMR}
\addlegendimage{draw=mmag, line width=1pt}
\addlegendentry{Atmospheric Drag LAMR}
\end{axis}
\begin{axis}[dayax, at={(31pt,50pt)}]
\end{axis}

% captions
\node[font=\capfont\bfseries\fontsize{14.7}{16}\selectfont] at (128pt,282.5pt) {(a) LEO Group 1};
\node[font=\capfont\bfseries\fontsize{14.7}{16}\selectfont] at (434.5pt,282.5pt) {(b) LEO Group 2};
\node[font=\capfont\bfseries\fontsize{14.7}{16}\selectfont] at (129pt,8.5pt) {(c) LEO Group 3};
\end{tikzpicture}
\end{document}
